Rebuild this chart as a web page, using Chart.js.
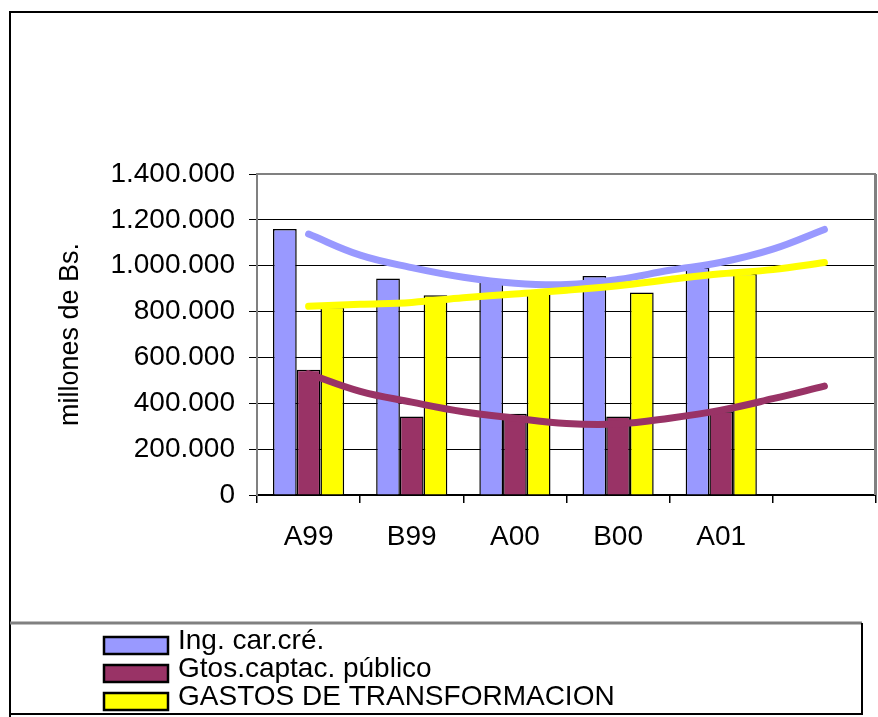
<!DOCTYPE html>
<html>
<head>
<meta charset="utf-8">
<script src="https://cdn.jsdelivr.net/npm/chart.js@4.4.1/dist/chart.umd.min.js"></script>
<style>
  html, body { margin: 0; padding: 0; background: #fff; }
  canvas { display: block; }
</style>
</head>
<body>
<canvas id="chart" width="878" height="717"></canvas>
<script>
// Periods (the sixth slot is left empty; only the trend curves reach it)
const categories = ['A99', 'B99', 'A00', 'B00', 'A01', ''];

// Semester values, millones de Bs.
const ingCarCre    = [1160000, 944000, 930000, 955000, 992000];
const gtosCaptac   = [546000, 342000, 354000, 342000, 365000];
const gastosTransf = [820000, 871000, 880000, 883000, 965000];

// Trend curves, sampled every half period (0 = A99 ... 5 = sixth slot)
const trendPos     = [0, 0.5, 1, 1.5, 2, 2.5, 3, 3.5, 4, 4.5, 5];
const trendIng     = [1138000, 1046000, 992000, 950000, 924000, 918000, 940000, 980000, 1015000, 1072000, 1158000];
const trendGtos    = [529000, 452000, 405000, 363000, 335000, 312000, 310000, 335000, 370000, 420000, 475000];
const trendGastos  = [823000, 832000, 840000, 860000, 877000, 893000, 913000, 940000, 965000, 983000, 1014000];

// Value axis
const yMin = 0, yMax = 1400000, yStep = 200000;

const seriesNames = ['Ing. car.cré.', 'Gtos.captac. público', 'GASTOS DE TRANSFORMACION'];
const COLORS = ['#9999FF', '#993366', '#FFFF00'];
const FONT = '"Liberation Sans", Arial, sans-serif';

const thousands = v => String(v).replace(/\B(?=(\d{3})+(?!\d))/g, '.');
const points = ys => ys.map((y, i) => ({ x: i, y }));
const curve = ys => trendPos.map((x, i) => ({ x, y: ys[i] }));

// Plot-area border, outer frame and the boxed legend
const decorations = {
  id: 'decorations',
  beforeDatasetsDraw(chart) {
    const { ctx, chartArea: a } = chart;
    ctx.save();
    ctx.strokeStyle = '#808080';
    ctx.lineWidth = 2;
    ctx.beginPath();
    ctx.moveTo(a.left, a.top);
    ctx.lineTo(a.right, a.top);
    ctx.stroke();
    ctx.lineWidth = 3;
    ctx.beginPath();
    ctx.moveTo(a.right - 0.5, a.top);
    ctx.lineTo(a.right - 0.5, a.bottom);
    ctx.stroke();
    ctx.restore();
  },
  afterDraw(chart) {
    const ctx = chart.ctx;
    ctx.save();
    ctx.strokeStyle = '#000';
    ctx.lineWidth = 2;
    ctx.beginPath();
    ctx.moveTo(10, 717);
    ctx.lineTo(10, 12);
    ctx.lineTo(878, 12);
    ctx.stroke();

    ctx.strokeStyle = '#808080';
    ctx.lineWidth = 3;
    ctx.beginPath();
    ctx.moveTo(10, 623);
    ctx.lineTo(862, 623);
    ctx.stroke();
    ctx.strokeStyle = '#000';
    ctx.lineWidth = 2;
    ctx.beginPath();
    ctx.moveTo(862, 623);
    ctx.lineTo(862, 714);
    ctx.lineTo(10, 714);
    ctx.stroke();

    const bars = chart.data.datasets.filter(d => d.type !== 'line');
    ctx.font = '28px ' + FONT;
    ctx.textBaseline = 'middle';
    ctx.textAlign = 'left';
    bars.forEach((ds, i) => {
      const top = 637 + i * 28;
      ctx.fillStyle = ds.backgroundColor;
      ctx.fillRect(104, top, 64, 17);
      ctx.lineWidth = 2.5;
      ctx.strokeStyle = '#000';
      ctx.strokeRect(104, top, 64, 17);
      ctx.fillStyle = '#000';
      ctx.fillText(ds.label, 178, top + 4);
    });
    ctx.restore();
  }
};

const barSet = (label, values, color) => ({
  label,
  data: points(values),
  backgroundColor: color,
  borderColor: '#000',
  borderWidth: 1.5,
  categoryPercentage: 0.69,
  barPercentage: 1.0,
  order: 1
});

const trendSet = (label, pts, color, order) => ({
  type: 'line',
  label,
  data: pts,
  borderColor: color,
  borderWidth: 7,
  borderCapStyle: 'round',
  borderJoinStyle: 'round',
  tension: 0.4,
  pointRadius: 0,
  fill: false,
  order
});

new Chart(document.getElementById('chart'), {
  type: 'bar',
  data: {
    datasets: [
      barSet(seriesNames[0], ingCarCre, COLORS[0]),
      barSet(seriesNames[1], gtosCaptac, COLORS[1]),
      barSet(seriesNames[2], gastosTransf, COLORS[2]),
      trendSet('Tendencia ' + seriesNames[0], curve(trendIng), COLORS[0], 0),
      trendSet('Tendencia ' + seriesNames[1], curve(trendGtos), COLORS[1], -1),
      trendSet('Tendencia ' + seriesNames[2], curve(trendGastos), COLORS[2], -2)
    ]
  },
  options: {
    responsive: false,
    animation: false,
    devicePixelRatio: 1,
    events: [],
    layout: { padding: { left: 10, right: 2, top: 174, bottom: 162 } },
    plugins: {
      legend: { display: false },
      tooltip: { enabled: false }
    },
    scales: {
      x: {
        type: 'linear',
        min: -0.5,
        max: categories.length - 0.5,
        offset: false,
        afterBuildTicks(s) { s.ticks = categories.map((_, i) => ({ value: i })); },
        grid: { display: true, drawOnChartArea: false, offset: true, tickLength: 8, color: '#000', lineWidth: 1.5 },
        border: { color: '#000', width: 2 },
        ticks: {
          color: '#000',
          padding: 17,
          autoSkip: false,
          maxRotation: 0,
          font: { family: FONT, size: 28 },
          callback: v => categories[v] ?? ''
        },
        afterFit(s) { s.height = 60; }
      },
      y: {
        min: yMin,
        max: yMax,
        ticks: {
          stepSize: yStep,
          padding: 14,
          color: '#000',
          font: { family: FONT, size: 28 },
          callback: v => thousands(v)
        },
        grid: { color: '#000', lineWidth: 1, tickLength: 8, tickColor: '#000' },
        border: { color: '#808080', width: 2 },
        title: {
          display: true,
          text: 'millones de Bs.',
          color: '#000',
          font: { family: FONT, size: 27 },
          padding: { top: 44, bottom: 0 }
        },
        afterFit(s) { s.width = 247; }
      }
    }
  },
  plugins: [decorations]
});
</script>
</body>
</html>
